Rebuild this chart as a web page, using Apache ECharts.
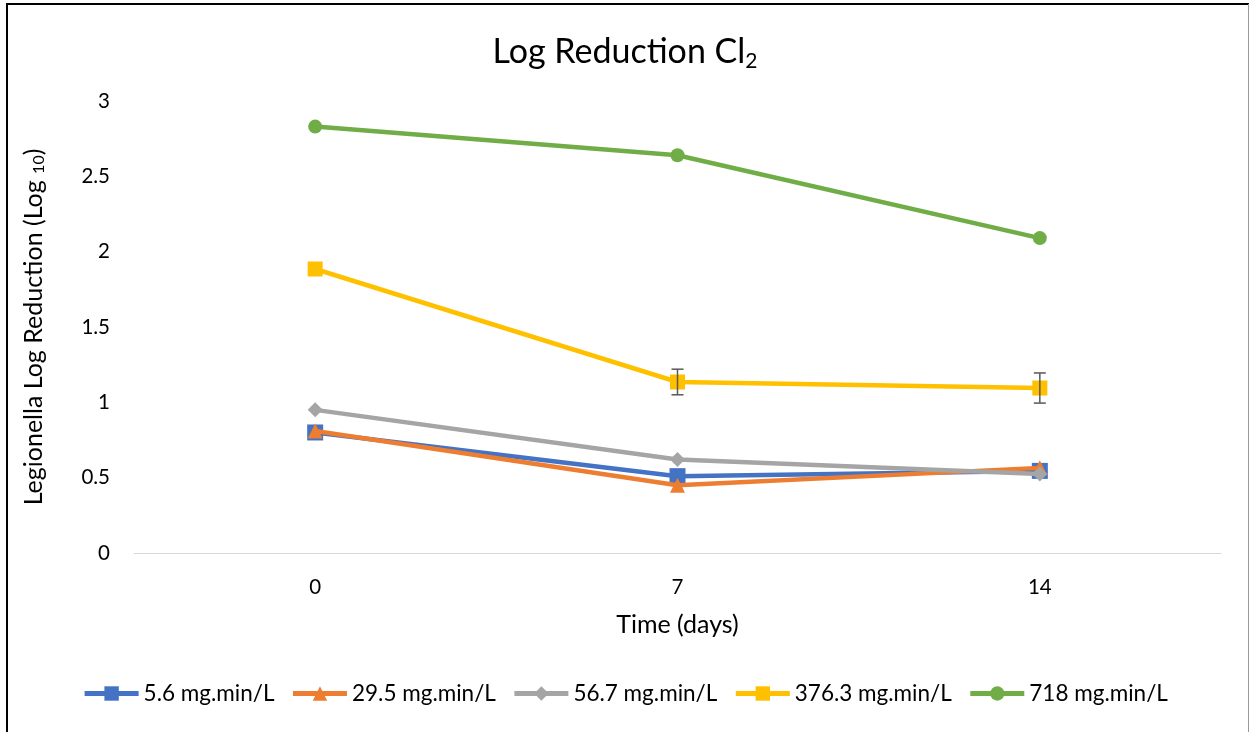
<!DOCTYPE html>
<html>
<head>
<meta charset="utf-8">
<script src="https://cdn.jsdelivr.net/npm/echarts@6/dist/echarts.min.js"></script>
<style>
html,body{margin:0;padding:0;background:#fff;}
#chart{width:1250px;height:732px;}
</style>
</head>
<body>
<div id="chart"></div>
<script>
const categories = ['0', '7', '14'];
const seriesNames = ['5.6 mg.min/L', '29.5 mg.min/L', '56.7 mg.min/L', '376.3 mg.min/L', '718 mg.min/L'];
const s56 = [0.80, 0.51, 0.545];
const s295 = [0.81, 0.45, 0.565];
const s567 = [0.95, 0.62, 0.525];
const s3763 = [1.885, 1.135, 1.095];
const s718 = [2.83, 2.64, 2.09];
const err3763 = [0, 0.085, 0.10];

const colors = ['#4472C4', '#ED7D31', '#A5A5A5', '#FFC000', '#70AD47'];
const symbols = ['rect', 'triangle', 'diamond', 'rect', 'circle'];
const sizes = [16, 15, 15, 15, 14];
const values = [s56, s295, s567, s3763, s718];
const FONT = 'Lato, "Open Sans", sans-serif';

const chart = echarts.init(document.getElementById('chart'));

const lineSeries = values.map((v, i) => ({
  name: seriesNames[i],
  type: 'line',
  data: v,
  symbol: symbols[i],
  symbolSize: sizes[i],
  showAllSymbol: true,
  lineStyle: { color: colors[i], width: 4.5 },
  itemStyle: { color: colors[i] },
  z: 2 + i
}));

const errData = categories.map((c, i) => [i, s3763[i], err3763[i]]).filter(d => d[2] > 0);

const errSeries = {
  type: 'custom',
  name: 'err',
  z: 20,
  silent: true,
  renderItem: function (params, api) {
    const x = api.value(0), y = api.value(1), e = api.value(2);
    const top = api.coord([x, y + e]);
    const bot = api.coord([x, y - e]);
    const hw = 6;
    const style = { stroke: '#595959', lineWidth: 1.5 };
    return {
      type: 'group',
      children: [
        { type: 'line', shape: { x1: top[0], y1: top[1], x2: bot[0], y2: bot[1] }, style },
        { type: 'line', shape: { x1: top[0] - hw, y1: top[1], x2: top[0] + hw, y2: top[1] }, style },
        { type: 'line', shape: { x1: bot[0] - hw, y1: bot[1], x2: bot[0] + hw, y2: bot[1] }, style }
      ]
    };
  },
  encode: { x: 0, y: 1 },
  data: errData
};

chart.setOption({
  animation: false,
  backgroundColor: '#fff',
  textStyle: { fontFamily: FONT },
  title: {
    text: '{t|Log Reduction Cl}{s|2}',
    left: 'center',
    top: 28,
    textStyle: {
      fontWeight: 'normal',
      rich: {
        t: { fontSize: 34, color: '#000', fontFamily: FONT, fontWeight: 'normal' },
        s: { fontSize: 21, color: '#000', fontFamily: FONT, fontWeight: 'normal', padding: [18, 0, 0, 0] }
      }
    }
  },
  grid: { left: 134, right: 29, top: 101, bottom: 179 },
  legend: {
    bottom: 22,
    left: 'center',
    itemWidth: 54,
    itemHeight: 18,
    itemGap: 16,
    data: seriesNames,
    lineStyle: { width: 5 },
    textStyle: { fontSize: 22.5, color: '#000', fontFamily: FONT }
  },
  xAxis: {
    type: 'category',
    data: categories,
    boundaryGap: true,
    axisLine: { lineStyle: { color: '#D9D9D9', width: 1 } },
    axisTick: { show: false },
    axisLabel: { fontSize: 20.5, color: '#000', margin: 24, fontFamily: FONT },
    name: 'Time (days)',
    nameLocation: 'middle',
    nameGap: 59,
    nameTextStyle: { fontSize: 25, color: '#000', fontFamily: FONT }
  },
  yAxis: {
    type: 'value',
    min: 0,
    max: 3,
    interval: 0.5,
    axisLine: { show: false },
    axisTick: { show: false },
    splitLine: { show: false },
    axisLabel: { fontSize: 20.5, color: '#000', margin: 24, fontFamily: FONT },
    name: '{t|Legionella Log Reduction (Log }{s|10}{t|)}',
    nameLocation: 'middle',
    nameGap: 87,
    nameTextStyle: {
      rich: {
        t: { fontSize: 25, color: '#000', fontFamily: FONT },
        s: { fontSize: 16, color: '#000', fontFamily: FONT, padding: [10, 0, 0, 0] }
      }
    }
  },
  graphic: [
    { type: 'line', shape: { x1: 6, y1: 4, x2: 1249, y2: 4 }, style: { stroke: '#000', lineWidth: 2 } },
    { type: 'line', shape: { x1: 7, y1: 4, x2: 7, y2: 732 }, style: { stroke: '#000', lineWidth: 2 } },
    { type: 'line', shape: { x1: 1248.5, y1: 4, x2: 1248.5, y2: 732 }, style: { stroke: '#999', lineWidth: 1 } }
  ],
  series: lineSeries.concat([errSeries])
});
</script>
</body>
</html>
